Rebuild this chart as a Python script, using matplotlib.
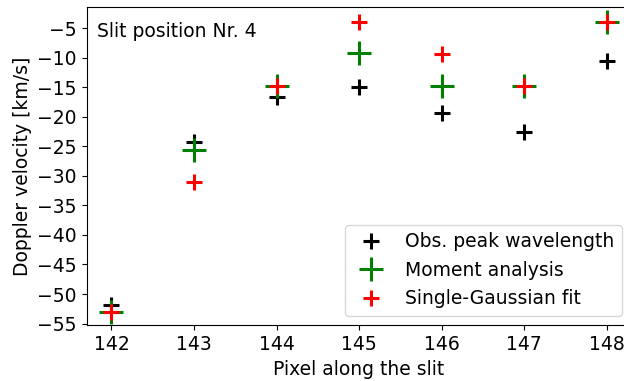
import matplotlib
matplotlib.use("Agg")
import matplotlib.pyplot as plt

pixels = [142, 143, 144, 145, 146, 147, 148]
obs_peak = [-51.8, -24.2, -16.6, -14.9, -19.3, -22.6, -10.6]
moment = [-53.0, -25.6, -14.8, -9.2, -14.8, -14.8, -3.9]
gauss = [-53.0, -31.1, -14.8, -3.9, -9.3, -14.8, -3.9]

FS = 13.5
W, H = 624, 381
fig = plt.figure(figsize=(W / 100, H / 100), dpi=100)
left, right = 86.7 / W, 631.5 / W
bottom, top = (H - 325.3) / H, (H - 6.7) / H
ax = fig.add_axes([left, bottom, right - left, top - bottom])

ax.plot(pixels, obs_peak, "+", color="black", ms=11, mew=2.2,
        label="Obs. peak wavelength", ls="none")
ax.plot(pixels, moment, "+", color="green", ms=17, mew=2.2,
        label="Moment analysis", ls="none")
ax.plot(pixels, gauss, "+", color="red", ms=11, mew=2.2,
        label="Single-Gaussian fit", ls="none")

ax.set_xlim(141.7, 148.3)
ax.set_ylim(-55.3, -1.33)
ax.set_yticks(range(-55, 0, 5))
ax.set_xticks(pixels)
ax.tick_params(labelsize=FS)
ax.set_xlabel("Pixel along the slit", fontsize=FS)
ax.set_ylabel("Doppler velocity [km/s]", fontsize=FS)

fig.text(97 / W, (H - 22) / H, "Slit position Nr. 4", fontsize=FS,
         ha="left", va="top")

ax.legend(loc="lower right", bbox_to_anchor=(621.7 / W, (H - 315.7) / H),
          bbox_transform=fig.transFigure, borderaxespad=0, fontsize=FS)

fig.savefig("out.png", dpi=100)
